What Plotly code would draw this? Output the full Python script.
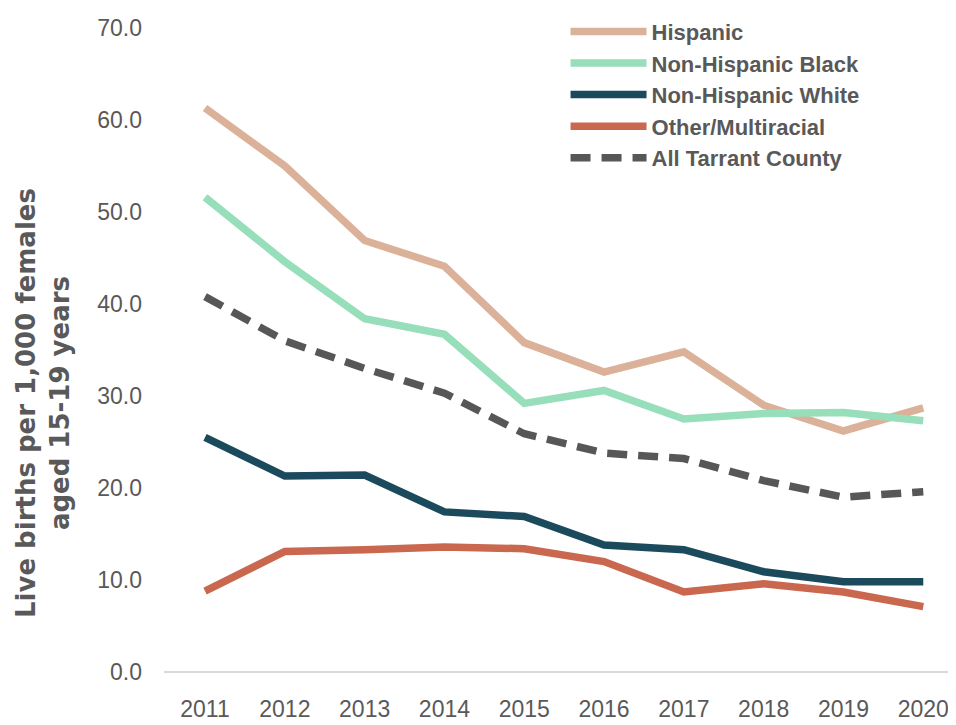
import plotly.graph_objects as go

years = [2011, 2012, 2013, 2014, 2015, 2016, 2017, 2018, 2019, 2020]
hispanic = [61.3, 55.0, 46.9, 44.1, 35.8, 32.6, 34.8, 29.0, 26.2, 28.7]
nh_black = [51.6, 44.6, 38.4, 36.7, 29.2, 30.6, 27.5, 28.1, 28.2, 27.3]
nh_white = [25.5, 21.3, 21.4, 17.4, 16.9, 13.8, 13.3, 10.9, 9.8, 9.8]
other_multi = [8.8, 13.1, 13.3, 13.6, 13.4, 12.0, 8.7, 9.6, 8.7, 7.1]
all_tarrant = [40.8, 36.0, 33.0, 30.3, 25.9, 23.8, 23.2, 20.8, 19.0, 19.6]

series_names = ["Hispanic", "Non-Hispanic Black", "Non-Hispanic White",
                "Other/Multiracial", "All Tarrant County"]
series_values = [hispanic, nh_black, nh_white, other_multi, all_tarrant]
colors = ["#DCB199", "#97DEBB", "#1C4A5D", "#C9674F", "#575757"]
dashes = ["solid", "solid", "solid", "solid", "20px,11px"]

y_ticks = [0, 10, 20, 30, 40, 50, 60, 70]
y_title = "Live births per 1,000 females<br>aged 15-19 years"

fig = go.Figure()
for name, vals, col, dsh in zip(series_names, series_values, colors, dashes):
    fig.add_trace(go.Scatter(
        x=years, y=vals, name=name, mode="lines",
        line=dict(color=col, width=7.5, dash=dsh),
    ))

# page body adds an 8px offset; size the figure to the visible area
W, H = 948, 717
ml, mr, mt, mb = 156, 0, 20, 53
pw, ph = W - ml - mr, H - mt - mb

fig.update_layout(
    template="none",
    width=W, height=H,
    margin=dict(l=ml, r=mr, t=mt, b=mb, autoexpand=False),
    paper_bgcolor="white", plot_bgcolor="white",
    font=dict(family="Liberation Sans, Arial, sans-serif", color="#595959"),
    showlegend=True,
    legend=dict(
        x=0.507, y=1.027, xanchor="left", yanchor="top",
        font=dict(size=22, color="#595959", family="Liberation Sans, Arial, sans-serif", weight="bold"),
        bgcolor="rgba(255,255,255,0)", tracegroupgap=0, itemwidth=76,
        borderwidth=0,
    ),
    xaxis=dict(
        range=[2010.486, 2020.41], tickmode="array", tickvals=years,
        ticktext=[str(y) for y in years],
        showgrid=False, zeroline=False, showline=False, ticks="",
        tickfont=dict(size=23, color="#595959"),
        ticklabelstandoff=21, automargin=False,
    ),
    yaxis=dict(
        range=[0, 70], tickmode="array", tickvals=y_ticks,
        ticktext=[f"{v:.1f}" for v in y_ticks],
        showgrid=False, zeroline=True, zerolinecolor="#D9D9D9", zerolinewidth=2,
        showline=False, ticks="",
        tickfont=dict(size=23, color="#595959"),
        ticklabelstandoff=21, automargin=False,
    ),
    annotations=[dict(
        text=y_title, textangle=-90, showarrow=False,
        xref="paper", yref="paper",
        x=(35 - ml) / pw, y=(H - mb - 395) / ph,
        xanchor="center", yanchor="middle",
        font=dict(size=26, color="#595959", family="DejaVu Sans, sans-serif", weight="bold"),
    )],
)

fig.write_html("out.html")
